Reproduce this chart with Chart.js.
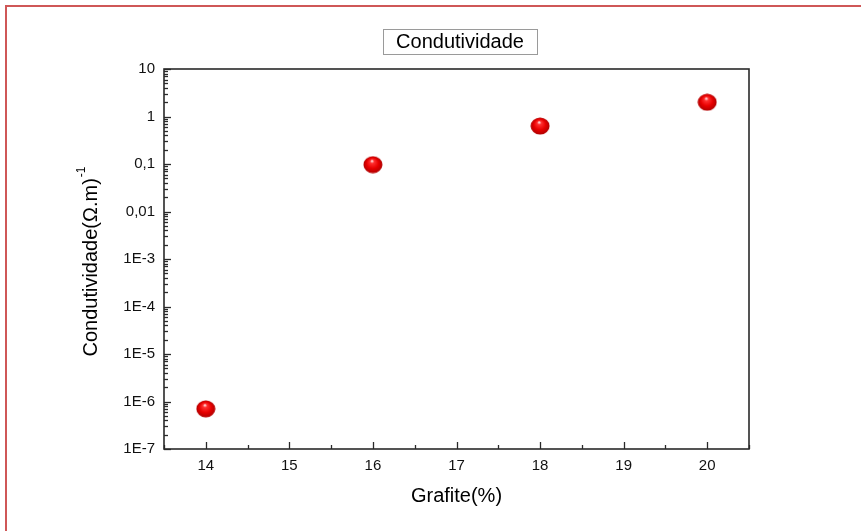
<!DOCTYPE html>
<html>
<head>
<meta charset="utf-8">
<script src="https://cdn.jsdelivr.net/npm/chart.js@4"></script>
<style>
    html, body { margin: 0; padding: 0; background: #fff; overflow: hidden; }
    #wrap { position: relative; width: 861px; height: 531px; }
    #frame {
        position: absolute; left: 5px; top: 5px; width: 900px; height: 600px;
        border-top: 2px solid #cf5757; border-left: 2px solid #cf5757;
        pointer-events: none;
    }
</style>
</head>
<body>
<div id="wrap">
    <canvas id="chart" width="861" height="531"></canvas>
    <div id="frame"></div>
</div>
<script>
const grafite = [14, 16, 18, 20];
const condutividade = [7e-7, 0.097, 0.63, 2.0];

const xTicks = [14, 15, 16, 17, 18, 19, 20];
const yTicks = [1e-7, 1e-6, 1e-5, 1e-4, 1e-3, 0.01, 0.1, 1, 10];
const yTickLabels = ['1E-7', '1E-6', '1E-5', '1E-4', '1E-3', '0,01', '0,1', '1', '10'];

const FONT = '"Liberation Sans", Arial, sans-serif';
const AXIS_COLOR = '#2a2a2a';

// glossy red ball used as the point marker
function makeBall(w, h) {
    const c = document.createElement('canvas');
    c.width = w; c.height = h;
    const g = c.getContext('2d');
    g.save();
    g.translate(w / 2, h / 2);
    g.scale(1, h / w);
    const r = w / 2 - 0.5;
    const grad = g.createRadialGradient(-r * 0.1, -r * 0.45, r * 0.05, 0, 0, r);
    grad.addColorStop(0, '#ffd8d8');
    grad.addColorStop(0.18, '#ff3030');
    grad.addColorStop(0.6, '#e80000');
    grad.addColorStop(1, '#b00000');
    g.fillStyle = grad;
    g.beginPath();
    g.arc(0, 0, r, 0, Math.PI * 2);
    g.fill();
    g.restore();
    return c;
}

// box frame, inward ticks, titles
const decorations = {
    id: 'decorations',
    afterDraw(chart) {
        const {ctx, chartArea: a, scales: {x, y}} = chart;
        ctx.save();
        ctx.strokeStyle = AXIS_COLOR;

        // minor/major ticks on the bottom axis
        ctx.lineWidth = 1.3;
        for (let v = 13.5; v <= 20.5; v += 0.5) {
            const px = Math.round(x.getPixelForValue(v)) + 0.5;
            const len = Number.isInteger(v) ? 7 : 4;
            ctx.beginPath();
            ctx.moveTo(px, a.bottom);
            ctx.lineTo(px, a.bottom - len);
            ctx.stroke();
        }

        // log ticks on the left axis
        yTicks.forEach((d, i) => {
            const py = Math.round(y.getPixelForValue(d)) + 0.5;
            ctx.beginPath();
            ctx.moveTo(a.left, py);
            ctx.lineTo(a.left + 7, py);
            ctx.stroke();
            if (i < yTicks.length - 1) {
                for (let m = 2; m <= 9; m++) {
                    const my = Math.round(y.getPixelForValue(d * m)) + 0.5;
                    ctx.beginPath();
                    ctx.moveTo(a.left, my);
                    ctx.lineTo(a.left + 4, my);
                    ctx.stroke();
                }
            }
        });

        // plot frame
        ctx.lineWidth = 1.6;
        ctx.strokeRect(a.left, a.top, a.right - a.left, a.bottom - a.top);

        // title in a box
        ctx.font = '20px ' + FONT;
        ctx.fillStyle = '#000';
        ctx.textAlign = 'center';
        ctx.textBaseline = 'middle';
        const title = 'Condutividade';
        const tx = 460, ty = 42;
        ctx.fillText(title, tx, ty);
        ctx.strokeStyle = '#9a9a9a';
        ctx.lineWidth = 1;
        ctx.strokeRect(383.5, 29.5, 154, 25);

        // x axis title
        ctx.fillText('Grafite(%)', (a.left + a.right) / 2, 496);

        // y axis title with superscript
        const main = 'Condutividade(\u03A9.m)';
        const sup = '-1';
        const mw = ctx.measureText(main).width;
        ctx.font = '12px ' + FONT;
        const sw = ctx.measureText(sup).width;
        ctx.translate(91, (a.top + a.bottom) / 2 + 3);
        ctx.rotate(-Math.PI / 2);
        ctx.textAlign = 'left';
        ctx.font = '20px ' + FONT;
        const start = -(mw + sw) / 2;
        ctx.fillText(main, start, 0);
        ctx.font = '12px ' + FONT;
        ctx.fillText(sup, start + mw + 1, -9);
        ctx.restore();
    }
};

new Chart(document.getElementById('chart'), {
    type: 'scatter',
    data: {
        datasets: [{
            data: grafite.map((g, i) => ({x: g, y: condutividade[i]})),
            pointStyle: makeBall(20, 18),
            pointRadius: 10,
            pointHoverRadius: 10
        }]
    },
    options: {
        responsive: false,
        animation: false,
        events: [],
        layout: {padding: {top: 69, right: 112, left: 0, bottom: 0}},
        plugins: {legend: {display: false}, tooltip: {enabled: false}},
        scales: {
            x: {
                type: 'linear',
                min: 13.5,
                max: 20.5,
                afterBuildTicks: s => { s.ticks = xTicks.map(v => ({value: v})); },
                afterFit: s => { s.height = 82; },
                grid: {display: false, drawTicks: false},
                border: {display: false},
                ticks: {
                    color: '#111',
                    font: {family: FONT, size: 15},
                    padding: 8,
                    maxRotation: 0,
                    callback: v => String(v)
                }
            },
            y: {
                type: 'logarithmic',
                min: 1e-7,
                max: 10,
                afterBuildTicks: s => { s.ticks = yTicks.map(v => ({value: v})); },
                afterFit: s => { s.width = 164; },
                grid: {display: false, drawTicks: false},
                border: {display: false},
                ticks: {
                    color: '#111',
                    font: {family: FONT, size: 15},
                    padding: 9,
                    callback: v => yTickLabels[yTicks.findIndex(t => Math.abs(Math.log10(t) - Math.log10(v)) < 1e-6)]
                }
            }
        }
    },
    plugins: [decorations]
});
</script>
</body>
</html>
